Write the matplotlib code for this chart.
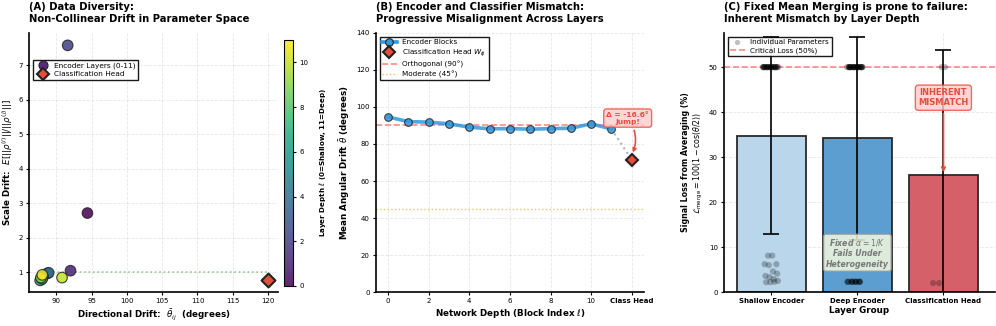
import numpy as np
import matplotlib
matplotlib.use('Agg')
import matplotlib.pyplot as plt
from matplotlib.lines import Line2D

# ---- Panel A: per-layer drift (angle in degrees, scale ratio)
layer_idx = [0, 1, 2, 3, 4, 5, 6, 7, 8, 9, 10, 11]
layer_angle = [94.4, 92.0, 91.6, 88.7, 88.9, 88.1, 87.9, 87.7, 88.0, 87.8, 90.8, 88.0]
layer_scale = [2.72, 1.05, 7.58, 0.97, 0.99, 0.88, 0.80, 0.77, 0.82, 0.85, 0.85, 0.93]
head_angle_a = 120.0
head_scale_a = 0.77

# ---- Panel B: mean angular drift per block
blocks = [0, 1, 2, 3, 4, 5, 6, 7, 8, 9, 10, 11]
block_drift = [94.6, 92.1, 91.8, 90.9, 89.1, 88.2, 88.3, 88.0, 88.3, 88.5, 90.9, 88.1]
head_drift = 71.5

# ---- Panel C: signal loss per layer group
groups = ['Shallow Encoder', 'Deep Encoder', 'Classification Head']
group_mean = [34.8, 34.2, 26.0]
group_std = [21.8, 22.6, 27.7]
shallow_pts = [50.0] * 28 + [8.1, 8.1, 6.2, 6.2, 6.0, 4.6, 4.1, 3.6, 3.3, 2.9, 2.5, 2.2, 2.2, 2.3]
deep_pts = [50.0] * 30 + [2.3] * 15
head_pts = [50.0, 50.0, 2.0, 2.0]

plt.rcParams['font.family'] = 'DejaVu Sans'
plt.rcParams['font.size'] = 5

fig = plt.figure(figsize=(9.96, 3.26), dpi=100)

def style_axes(ax):
    ax.spines['top'].set_visible(False)
    ax.spines['right'].set_visible(False)
    ax.spines['left'].set_linewidth(1.2)
    ax.spines['bottom'].set_linewidth(1.2)
    ax.grid(True, linestyle='--', alpha=0.3, linewidth=0.6)
    ax.set_axisbelow(True)
    ax.tick_params(labelsize=5, width=0.8, length=2.5, pad=2)

def spread(n, lo, hi):
    # evenly spaced horizontal offsets, reordered so that they do not follow the values
    offs = np.linspace(lo, hi, n)
    order = (np.arange(n) * 11) % n
    return offs[order]

# ================= Panel A
axA = fig.add_axes([0.029, 0.104, 0.250, 0.795])
style_axes(axA)
axA.plot([min(layer_angle), head_angle_a], [1.0, 1.0], color='#2ca02c', linestyle=':',
         linewidth=1.2, alpha=0.5, zorder=1)
sc = axA.scatter(layer_angle, layer_scale, c=layer_idx, cmap='viridis', vmin=0, vmax=11,
                 s=58, edgecolors='#222222', linewidths=0.8, alpha=0.85, zorder=3)
axA.scatter([head_angle_a], [head_scale_a], marker='D', s=50, color='#e74c3c',
            edgecolors='#222222', linewidths=1.5, zorder=4)
axA.set_xlim(86.1, 121.4)
axA.set_ylim(0.43, 7.94)
axA.set_xticks([90, 95, 100, 105, 110, 115, 120])
axA.set_yticks([1, 2, 3, 4, 5, 6, 7])
axA.set_xlabel(r'Directional Drift:  $\bar{\theta}_{ij}$  (degrees)', fontsize=6.3, fontweight='bold', labelpad=2)
axA.set_ylabel(r'Scale Drift:  $E[||\rho^{(i)}||/||\rho^{(j)}||]$', fontsize=6.3, fontweight='bold', labelpad=2)
axA.set_title('(A) Data Diversity:\nNon-Collinear Drift in Parameter Space', loc='left',
              fontsize=7.2, fontweight='bold', pad=8)
handlesA = [
    Line2D([], [], marker='o', linestyle='none', markersize=6.5, markerfacecolor='#5b2a80',
           markeredgecolor='#222222', markeredgewidth=0.8),
    Line2D([], [], marker='D', linestyle='none', markersize=6.5, markerfacecolor='#e74c3c',
           markeredgecolor='#222222', markeredgewidth=1.5),
]
legA = axA.legend(handlesA, ['Encoder Layers (0-11)', 'Classification Head'], loc='upper left',
                  bbox_to_anchor=(0.0, 0.91), fontsize=5.3, fancybox=False, edgecolor='black',
                  framealpha=0.9, handletextpad=0.6, borderpad=0.35, labelspacing=0.25)
legA.get_frame().set_linewidth(1.0)

cax = fig.add_axes([0.285, 0.123, 0.0095, 0.754])
cb = fig.colorbar(sc, cax=cax)
cb.set_ticks([0, 2, 4, 6, 8, 10])
cb.ax.tick_params(labelsize=5, width=0.8, length=2.5, pad=2)
cb.outline.set_linewidth(0.8)
cb.set_label(r'Layer Depth $\ell$ (0=Shallow, 11=Deep)', fontsize=5.1, fontweight='bold', labelpad=6)

# ================= Panel B
axB = fig.add_axes([0.3775, 0.104, 0.269, 0.795])
style_axes(axB)
head_x = len(blocks)
axB.axhline(90, color='#ff6b6b', linestyle='--', linewidth=1.2, alpha=0.8, zorder=1)
axB.axhline(45, color='#f5b041', linestyle=':', linewidth=1.0, alpha=0.8, zorder=1)
axB.plot([blocks[-1], head_x], [block_drift[-1], head_drift], color='gray', linestyle=':',
         linewidth=1.5, alpha=0.6, zorder=2)
axB.plot(blocks, block_drift, color='#3498db', linewidth=2.6, alpha=0.85, marker='o',
         markersize=5.5, markerfacecolor='#3498db', markeredgecolor='#222222',
         markeredgewidth=0.8, zorder=3)
axB.plot([head_x], [head_drift], marker='D', markersize=6.3, color='#e74c3c',
         markeredgecolor='#222222', markeredgewidth=1.5, linestyle='none', zorder=4)
delta = head_drift - block_drift[-1]
axB.annotate(f'Δ = {delta:.1f}°\nJump!', xy=(head_x, head_drift + 2.5), xytext=(11.8, 94),
             ha='center', va='center', fontsize=5.4, fontweight='bold', color='#e74c3c',
             bbox=dict(boxstyle='round,pad=0.35', facecolor='#ffcccc', edgecolor='#e74c3c',
                       alpha=0.8, linewidth=1.0),
             arrowprops=dict(arrowstyle='->', color='#e74c3c', lw=1.2,
                             connectionstyle='arc3,rad=-0.3'), zorder=5)
axB.set_xlim(-0.6, 12.6)
axB.set_ylim(0, 140)
axB.set_xticks([0, 2, 4, 6, 8, 10, head_x])
axB.set_xticklabels(['0', '2', '4', '6', '8', '10', 'Class Head'])
axB.get_xticklabels()[-1].set_fontweight('bold')
axB.set_xlabel(r'Network Depth (Block Index $\ell$)', fontsize=6.3, fontweight='bold', labelpad=2)
axB.set_ylabel(r'Mean Angular Drift $\bar{\theta}$ (degrees)', fontsize=6.3, fontweight='bold', labelpad=3)
axB.set_title('(B) Encoder and Classifier Mismatch:\nProgressive Misalignment Across Layers',
              loc='left', fontsize=7.2, fontweight='bold', pad=8)
handlesB = [
    Line2D([], [], color='#3498db', linewidth=2.6, marker='o', markersize=5.5,
           markerfacecolor='#3498db', markeredgecolor='#222222', markeredgewidth=0.8),
    Line2D([], [], marker='D', linestyle='none', markersize=6.5, markerfacecolor='#e74c3c',
           markeredgecolor='#222222', markeredgewidth=1.5),
    Line2D([], [], color='#ff6b6b', linestyle='--', linewidth=1.2, alpha=0.8),
    Line2D([], [], color='#f5b041', linestyle=':', linewidth=1.0, alpha=0.8),
]
legB = axB.legend(handlesB, ['Encoder Blocks', r'Classification Head $W_\phi$',
                             'Orthogonal (90°)', 'Moderate (45°)'],
                  loc='upper left', fontsize=5.2, fancybox=False, edgecolor='black',
                  framealpha=0.9, handletextpad=0.8, borderpad=0.35, labelspacing=0.3)
legB.get_frame().set_linewidth(1.0)

# ================= Panel C
axC = fig.add_axes([0.727, 0.104, 0.272, 0.795])
style_axes(axC)
xpos = np.arange(len(groups))
bar_colors = ['#b9d6ea', '#5b9ecf', '#d6606a']
axC.bar(xpos, group_mean, width=0.8, color=bar_colors, edgecolor='#2a2a2a', linewidth=1.3,
        zorder=2)
axC.errorbar(xpos, group_mean, yerr=group_std, fmt='none', ecolor='black', elinewidth=1.2,
             capsize=6, capthick=1.2, zorder=3)
offsets = [spread(len(shallow_pts), -0.1, 0.08),
           spread(len(deep_pts), -0.12, 0.06),
           np.array([-0.02, 0.02, -0.12, -0.05])]
for i, pts in enumerate([shallow_pts, deep_pts, head_pts]):
    axC.scatter(xpos[i] + offsets[i], pts, s=20, color='black', alpha=0.25,
                edgecolors='none', zorder=4)
axC.axhline(50, color='#ff6b6b', linestyle='--', linewidth=1.2, alpha=0.8, zorder=1)
axC.annotate('INHERENT\nMISMATCH', xy=(2, group_mean[2]), xytext=(2, 43.2), ha='center', va='center',
             fontsize=6, fontweight='bold', color='#e74c3c',
             bbox=dict(boxstyle='round,pad=0.35', facecolor='#ffcccc', edgecolor='#e74c3c',
                       alpha=0.8, linewidth=1.0),
             arrowprops=dict(arrowstyle='->', color='#e74c3c', lw=1.3), zorder=5)
axC.text(1.0, 8.7, 'Fixed $\\alpha = 1/K$\nFails Under\nHeterogeneity', ha='center', va='center',
         fontsize=5.6, fontweight='bold', style='italic', color='#777777',
         bbox=dict(boxstyle='round,pad=0.3', facecolor='lightyellow', edgecolor='#999999',
                   alpha=0.8, linewidth=1.0), zorder=6)
axC.set_xlim(-0.55, 2.6)
axC.set_ylim(0, 57.6)
axC.set_xticks(xpos)
axC.set_xticklabels(groups, fontweight='bold')
axC.set_yticks([0, 10, 20, 30, 40, 50])
axC.set_xlabel('Layer Group', fontsize=6.3, fontweight='bold', labelpad=1)
axC.set_ylabel('Signal Loss from Averaging (%)\n$\\mathcal{L}_{\\rm merge} = 100(1-\\cos(\\theta/2))$',
               fontsize=5.7, fontweight='bold', labelpad=3)
axC.set_title('(C) Fixed Mean Merging is prone to failure:\nInherent Mismatch by Layer Depth',
              loc='left', fontsize=7.2, fontweight='bold', pad=8)
handlesC = [
    Line2D([], [], marker='o', linestyle='none', markersize=3.8, markerfacecolor='gray',
           markeredgecolor='none', alpha=0.5),
    Line2D([], [], color='#ff6b6b', linestyle='--', linewidth=1.2, alpha=0.8),
]
legC = axC.legend(handlesC, ['Individual Parameters', 'Critical Loss (50%)'], loc='upper left',
                  fontsize=5.2, fancybox=False, edgecolor='black', framealpha=0.9,
                  handletextpad=0.8, borderpad=0.35, labelspacing=0.3)
legC.get_frame().set_linewidth(1.0)

plt.savefig('out.png', dpi=100, facecolor='white')
plt.close()
